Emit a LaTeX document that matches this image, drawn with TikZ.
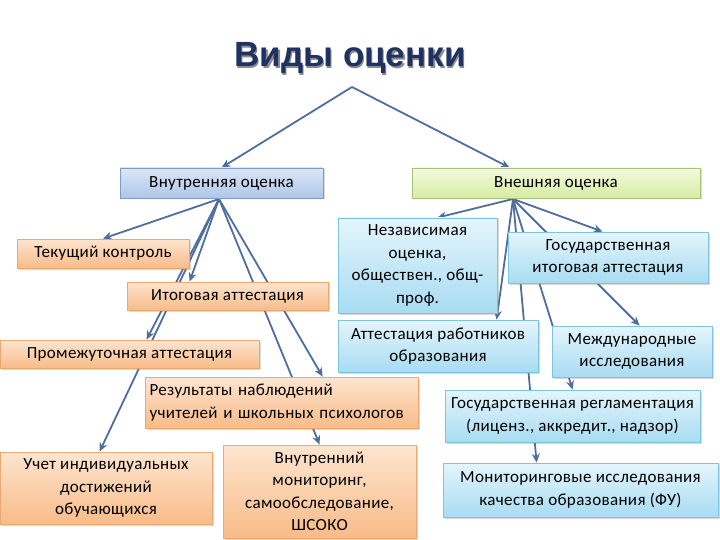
\documentclass[tikz,border=0pt]{standalone}
\usepackage{fontspec}
\setmainfont{Carlito}
\newfontfamily\boxfont[LetterSpace=2]{Carlito}
\newfontfamily\titlefont{Liberation Sans}
\usetikzlibrary{arrows.meta,shadows,calc,backgrounds}
\definecolor{navy}{HTML}{1F3262}
\definecolor{arr}{HTML}{4F6E9E}
\definecolor{bT}{HTML}{DCE6F6}\definecolor{bB}{HTML}{AFC6EA}\definecolor{bD}{HTML}{7F9CC8}
\definecolor{gT}{HTML}{F4FADF}\definecolor{gB}{HTML}{D6ECA2}\definecolor{gD}{HTML}{A9C27A}
\definecolor{oT}{HTML}{FDE5CF}\definecolor{oB}{HTML}{F8BB88}\definecolor{oD}{HTML}{EBA872}
\definecolor{cT}{HTML}{E4F5FC}\definecolor{cB}{HTML}{A8DCF2}\definecolor{cD}{HTML}{80C3DF}
\begin{document}
\begin{tikzpicture}[x=1pt,y=-1pt,
  box/.style={draw, line width=0.8pt, inner sep=2pt, align=center,
     font=\boxfont\fontsize{17}{22.5}\selectfont,
     drop shadow={shadow xshift=1.5pt, shadow yshift=-1.5pt, opacity=0.3}},
  bluebox/.style={box, draw=bD, top color=bT, bottom color=bB},
  greenbox/.style={box, draw=gD, top color=gT, bottom color=gB},
  orbox/.style={box, draw=oD, top color=oT, bottom color=oB},
  cybox/.style={box, draw=cD, top color=cT, bottom color=cB},
  con/.style={draw=arr, line width=1.8pt, -{Stealth[length=9pt,width=8pt]}}]
\useasboundingbox (0,0) rectangle (720,540);
% title
\node[text=black!45, font=\titlefont\bfseries\fontsize{35}{40}\selectfont] at (351.5,59.5) {Виды оценки};
\node[text=navy, font=\titlefont\bfseries\fontsize{35}{40}\selectfont] (title) at (350,58) {Виды оценки};
% top level
\node[bluebox, minimum width=203pt, minimum height=30pt] (vnut) at (221.5,183) {Внутренняя оценка};
\node[greenbox, minimum width=288pt, minimum height=30pt] (vnesh) at (556,183) {Внешняя оценка};
% internal
\node[orbox, minimum width=172pt, minimum height=29pt] (tek) at (103,253.5) {Текущий контроль};
\node[orbox, minimum width=201pt, minimum height=28pt] (itog) at (227.5,296) {Итоговая аттестация};
\node[orbox, minimum width=259pt, minimum height=28pt] (prom) at (129.5,354) {Промежуточная аттестация};
\node[orbox, minimum width=273pt, minimum height=51pt, text width=264pt, align=left] (rez) at (281.5,402.5) {Результаты наблюдений\\учителей и школьных психологов};
\node[orbox, minimum width=212pt, minimum height=72pt] (uchet) at (106,488) {Учет индивидуальных\\достижений\\обучающихся};
\node[orbox, minimum width=193pt, minimum height=93pt] (vnmon) at (319.5,491.5) {Внутренний\\мониторинг,\\самообследование,\\ШСОКО};
% external
\node[cybox, minimum width=159pt, minimum height=95pt] (nez) at (417.5,265.5) {Независимая\\оценка,\\обществен., общ-\\проф.};
\node[cybox, minimum width=200pt, minimum height=51pt] (gia) at (608,257.5) {Государственная\\итоговая аттестация};
\node[cybox, minimum width=200pt, minimum height=52pt] (att) at (438,346) {Аттестация работников\\образования};
\node[cybox, minimum width=160pt, minimum height=51pt] (mezh) at (632,351.5) {Международные\\исследования};
\node[cybox, minimum width=255pt, minimum height=52pt] (gosreg) at (572.5,416) {Государственная регламентация\\(лиценз., аккредит., надзор)};
\node[cybox, minimum width=275pt, minimum height=54pt] (monit) at (580.5,490) {Мониторинговые исследования\\качества образования (ФУ)};
% connectors
\coordinate (apex) at (352,87);
\coordinate (sL) at (219,199);
\coordinate (sR) at (513,199);
\begin{scope}[on background layer]
\draw[con] (apex) -- (vnut.north);
\draw[con] (apex) -- ($(vnesh.north west)+(98,0)$);
\draw[con] (sL) -- (tek.north);
\draw[con] (sL) -- ($(itog.north west)+(63,0)$);
\draw[con] (sL) -- ($(prom.north west)+(147,0)$);
\draw[con] (sL) -- ($(uchet.north west)+(100,0)$);
\draw[con] (sL) -- ($(rez.north west)+(178,0)$);
\draw[con] (sL) -- ($(vnmon.north west)+(97,0)$);
\draw[con] (sR) -- ($(nez.north east)+(-60,0)$);
\draw[con] (sR) -- ($(gia.north west)+(95,0)$);
\draw[con] (sR) -- ($(att.north west)+(159,0)$);
\draw[con] (sR) -- ($(mezh.north west)+(88,0)$);
\draw[con] (sR) -- ($(gosreg.north west)+(128,0)$);
\draw[con] (sR) -- ($(monit.north west)+(94,0)$);
\end{scope}
\end{tikzpicture}
\end{document}
